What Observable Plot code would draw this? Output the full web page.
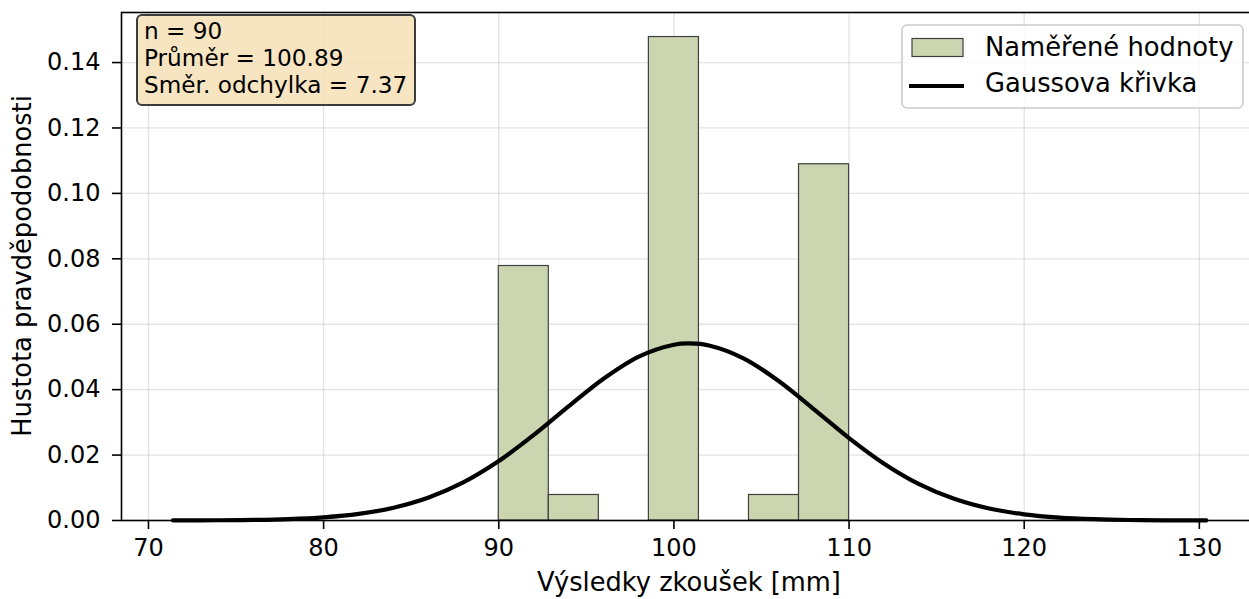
<!DOCTYPE html>
<html>
<head>
<meta charset="utf-8">
<script src="https://cdn.jsdelivr.net/npm/d3@7"></script>
<script src="https://cdn.jsdelivr.net/npm/@observablehq/plot@0.6"></script>
<style>
  html, body { margin: 0; padding: 0; background: #fff; overflow: hidden; }
  #chart { width: 1249px; height: 599px; position: relative; }
</style>
</head>
<body>
<div id="chart"></div>
<script>
// ---- data ----
const binStart = [90.000, 92.857, 95.714, 98.571, 101.429, 104.286, 107.143];
const binEnd   = [92.857, 95.714, 98.571, 101.429, 104.286, 107.143, 110.000];
const binDensity = [0.0778, 0.0078, 0.0, 0.1478, 0.0, 0.0078, 0.1089];

const curveX = [71.4, 74, 76, 78, 80, 82, 84, 86, 88, 90, 92, 94, 96, 98, 100, 100.89,
                102, 104, 106, 108, 110, 112, 114, 116, 118, 120, 122, 124, 126, 128, 130.4];
const curveY = [0.00002, 0.00007, 0.00018, 0.00044, 0.00098, 0.00203, 0.00392, 0.00703,
                0.01172, 0.01817, 0.02615, 0.03497, 0.04343, 0.05012, 0.05374, 0.05413,
                0.05352, 0.04952, 0.04256, 0.03399, 0.02521, 0.01738, 0.01112, 0.00662,
                0.00366, 0.00188, 0.00090, 0.00040, 0.00016, 0.00006, 0.00002];

const xTicks = [70, 80, 90, 100, 110, 120, 130];
const yTicks = [0.00, 0.02, 0.04, 0.06, 0.08, 0.10, 0.12, 0.14];

const statsLines = ["n = 90", "Průměr = 100.89", "Směr. odchylka = 7.37"];
const seriesNames = ["Naměřené hodnoty", "Gaussova křivka"];
const xLabel = "Výsledky zkoušek [mm]";
const yLabel = "Hustota pravděpodobnosti";

// ---- build tables ----
const bins = binStart.map((s, i) => ({x1: s, x2: binEnd[i], y: binDensity[i]}));
const curve = curveX.map((x, i) => ({x, y: curveY[i]}));

const W = 1249, H = 599;
const pLeft = 121, pTop = 12, pBottom = 520, pRight = 1257;
const FONT = "DejaVu Sans, Liberation Sans, sans-serif";

const plot = Plot.plot({
  width: W, height: H,
  marginLeft: pLeft, marginTop: pTop, marginBottom: H - pBottom, marginRight: W - pRight,
  style: {fontFamily: FONT, fontSize: "24px", color: "#000", background: "transparent", overflow: "visible"},
  x: {domain: [68.46, 133.32], range: [pLeft, pRight]},
  y: {domain: [0, 0.1553], range: [pBottom, pTop]},
  marks: [
    Plot.gridX(xTicks, {stroke: "#b0b0b0", strokeOpacity: 0.35, strokeWidth: 1.3}),
    Plot.gridY(yTicks, {stroke: "#b0b0b0", strokeOpacity: 0.35, strokeWidth: 1.3}),
    Plot.rectY(bins, {x1: "x1", x2: "x2", y: "y", fill: "#cbd6b0", stroke: "#404040", strokeWidth: 1.2, inset: 0}),
    Plot.line(curve, {x: "x", y: "y", stroke: "#000", strokeWidth: 4.2, curve: "catmull-rom"}),
    Plot.frame({stroke: "#000", strokeWidth: 1.6}),
    Plot.axisX(xTicks, {tickSize: 9, tickPadding: 9, strokeWidth: 1.6, fontSize: 24, label: null, tickFormat: d => String(d)}),
    Plot.axisY(yTicks, {tickSize: 9, tickPadding: 12, strokeWidth: 1.6, fontSize: 24, label: null, tickFormat: d3.format(".2f")})
  ]
});

document.getElementById("chart").appendChild(plot);

const svg = d3.select(plot);

// axis labels
svg.append("text")
  .attr("x", (pLeft + pRight) / 2).attr("y", 591)
  .attr("text-anchor", "middle")
  .style("font-family", FONT).style("font-size", "25.7px").attr("fill", "#000")
  .text(xLabel);
svg.append("text")
  .attr("transform", `translate(31,${(pTop + pBottom) / 2}) rotate(-90)`)
  .attr("text-anchor", "middle")
  .style("font-family", FONT).style("font-size", "25.7px").attr("fill", "#000")
  .text(yLabel);

// stats box
const sb = svg.append("g").attr("text-anchor", "start");
sb.append("rect")
  .attr("x", 137).attr("y", 15).attr("width", 278).attr("height", 90)
  .attr("rx", 5).attr("ry", 5)
  .attr("fill", "#f5deb3").attr("fill-opacity", 0.8)
  .attr("stroke", "#3c3c3c").attr("stroke-width", 2);
statsLines.forEach((t, i) => {
  sb.append("text")
    .attr("x", 144).attr("y", 39 + i * 27)
    .attr("text-anchor", "start")
    .style("font-family", FONT).style("font-size", "23.2px").attr("fill", "#000")
    .text(t);
});

// legend
const lg = svg.append("g").attr("text-anchor", "start");
lg.append("rect")
  .attr("x", 902).attr("y", 25).attr("width", 341).attr("height", 83)
  .attr("rx", 5).attr("ry", 5)
  .attr("fill", "#fff").attr("fill-opacity", 0.8)
  .attr("stroke", "#cccccc").attr("stroke-width", 1.6);
lg.append("rect")
  .attr("x", 912).attr("y", 38.5).attr("width", 51).attr("height", 18)
  .attr("fill", "#cbd6b0").attr("stroke", "#404040").attr("stroke-width", 1.2);
lg.append("line")
  .attr("x1", 909).attr("x2", 964).attr("y1", 86).attr("y2", 86)
  .attr("stroke", "#000").attr("stroke-width", 4);
seriesNames.forEach((t, i) => {
  lg.append("text")
    .attr("x", 985).attr("y", 56 + i * 36)
    .attr("text-anchor", "start")
    .style("font-family", FONT).style("font-size", "25.8px").attr("fill", "#000")
    .text(t);
});
</script>
</body>
</html>
